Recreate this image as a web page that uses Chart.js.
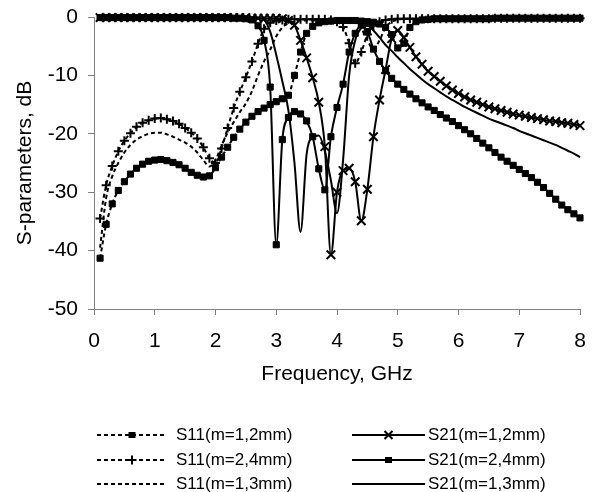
<!DOCTYPE html>
<html>
<head>
<meta charset="utf-8">
<title>S-parameters</title>
<style>
  html, body { margin: 0; padding: 0; background: #fff; }
  canvas { display: block; }
</style>
</head>
<body>
<canvas id="sparamChart" width="592" height="492"></canvas>
<script src="https://cdn.jsdelivr.net/npm/chart.js@4.4.1/dist/chart.umd.min.js"></script>
<script>
// Frequency points, GHz
const freq = [
  0.1, 0.2, 0.3, 0.4, 0.5, 0.6, 0.7, 0.8, 0.9, 1.0,
  1.1, 1.2, 1.3, 1.4, 1.5, 1.6, 1.7, 1.8, 1.9, 2.0,
  2.1, 2.2, 2.3, 2.4, 2.5, 2.6, 2.7, 2.8, 2.9, 3.0,
  3.1, 3.2, 3.3, 3.4, 3.5, 3.6, 3.7, 3.8, 3.9, 4.0,
  4.1, 4.2, 4.3, 4.4, 4.5, 4.6, 4.7, 4.8, 4.9, 5.0,
  5.1, 5.2, 5.3, 5.4, 5.5, 5.6, 5.7, 5.8, 5.9, 6.0,
  6.1, 6.2, 6.3, 6.4, 6.5, 6.6, 6.7, 6.8, 6.9, 7.0,
  7.1, 7.2, 7.3, 7.4, 7.5, 7.6, 7.7, 7.8, 7.9, 8.0
];

// S11, dB
const s11_m12 = [
  -41.3, -35.5, -32.0, -29.7, -28.2, -26.9, -25.9, -25.2, -24.7, -24.5,
  -24.4, -24.6, -24.9, -25.3, -25.9, -26.6, -27.1, -27.4, -27.2, -25.8,
  -24.0, -22.3, -20.6, -19.2, -18.0, -17.0, -16.2, -15.6, -15.0, -14.5,
  -14.0, -13.4, -10.0, -6.0, -2.8, -1.6, -1.0, -0.8, -0.7, -0.6,
  -0.6, -0.6, -0.6, -0.7, -0.8, -0.9, -1.2, -1.8, -3.0, -5.3,
  -4.5, -1.8, -0.8, -0.5, -0.4, -0.3, -0.3, -0.3, -0.3, -0.3,
  -0.3, -0.3, -0.3, -0.3, -0.3, -0.2, -0.2, -0.2, -0.2, -0.2,
  -0.2, -0.2, -0.2, -0.2, -0.2, -0.2, -0.2, -0.2, -0.2, -0.2
];
const s11_m24 = [
  -34.5, -28.8, -25.5, -23.0, -21.2, -19.9, -18.8, -18.1, -17.7, -17.4,
  -17.3, -17.5, -17.8, -18.3, -19.0, -19.8, -20.8, -22.3, -24.2, -25.0,
  -22.5, -19.0, -15.6, -12.8, -10.3, -7.6, -4.6, -2.0, -1.0, -0.6,
  -0.5, -0.4, -0.4, -0.4, -0.4, -0.4, -0.4, -0.4, -0.5, -0.8,
  -1.7, -4.5, -7.9, -6.0, -3.0, -1.5, -0.8, -0.5, -0.4, -0.3,
  -0.3, -0.3, -0.3, -0.3, -0.3, -0.3, -0.3, -0.3, -0.3, -0.3,
  -0.3, -0.3, -0.3, -0.3, -0.3, -0.2, -0.2, -0.2, -0.2, -0.2,
  -0.2, -0.2, -0.2, -0.2, -0.2, -0.2, -0.2, -0.2, -0.2, -0.2
];
const s11_m13 = [
  -39.5, -31.0, -27.3, -25.0, -23.2, -21.9, -21.0, -20.4, -20.0, -19.8,
  -19.8, -20.1, -20.5, -21.0, -21.5, -22.2, -23.2, -24.5, -25.6, -24.5,
  -22.0, -19.8, -18.0, -16.3, -14.8, -12.7, -10.0, -7.6, -5.6, -3.3,
  -1.8, -1.1, -0.8, -0.6, -0.6, -0.6, -0.6, -0.6, -0.6, -0.6,
  -0.6, -0.6, -1.0, -2.0, -4.0, -5.5, -4.0, -1.8, -0.8, -0.5,
  -0.3, -0.3, -0.3, -0.3, -0.3, -0.3, -0.3, -0.3, -0.3, -0.3,
  -0.3, -0.3, -0.3, -0.3, -0.3, -0.2, -0.2, -0.2, -0.2, -0.2,
  -0.2, -0.2, -0.2, -0.2, -0.2, -0.2, -0.2, -0.2, -0.2, -0.2
];

// S21, dB
const s21_m12 = [
  -0.1, -0.1, -0.1, -0.1, -0.1, -0.1, -0.1, -0.1, -0.1, -0.1,
  -0.1, -0.1, -0.1, -0.1, -0.1, -0.1, -0.1, -0.1, -0.1, -0.1,
  -0.1, -0.1, -0.1, -0.1, -0.1, -0.2, -0.2, -0.2, -0.2, -0.2,
  -0.3, -0.6, -1.4, -4.0, -7.0, -10.4, -14.6, -22.2, -40.7, -30.0,
  -26.3, -25.9, -28.2, -34.9, -29.5, -20.5, -14.2, -9.0, -3.7, -2.3,
  -3.5, -5.2, -6.8, -8.1, -9.3, -10.2, -11.0, -11.8, -12.5, -13.1,
  -13.7, -14.2, -14.6, -15.0, -15.4, -15.7, -16.0, -16.3, -16.6, -16.8,
  -17.0, -17.2, -17.4, -17.6, -17.8, -17.9, -18.1, -18.2, -18.4, -18.6
];
const s21_m24 = [
  -0.1, -0.1, -0.1, -0.1, -0.1, -0.1, -0.1, -0.1, -0.1, -0.1,
  -0.1, -0.1, -0.1, -0.1, -0.1, -0.1, -0.1, -0.1, -0.1, -0.1,
  -0.1, -0.1, -0.2, -0.2, -0.3, -0.5, -1.5, -4.0, -12.0, -39.0,
  -21.0, -17.2, -16.2, -16.6, -17.8, -20.5, -26.0, -29.6, -20.5, -15.5,
  -11.5, -6.0, -2.8, -1.4, -2.5, -5.5, -7.6, -9.2, -10.5, -11.5,
  -12.4, -13.2, -14.0, -14.7, -15.4, -16.0, -16.7, -17.3, -17.9, -18.6,
  -19.3, -20.0, -20.8, -21.6, -22.4, -23.2, -24.0, -24.7, -25.4, -26.1,
  -26.8, -27.5, -28.3, -29.2, -30.2, -31.2, -32.2, -33.0, -33.7, -34.4
];
const s21_m13 = [
  -0.1, -0.1, -0.1, -0.1, -0.1, -0.1, -0.1, -0.1, -0.1, -0.1,
  -0.1, -0.1, -0.1, -0.1, -0.1, -0.1, -0.1, -0.1, -0.1, -0.1,
  -0.1, -0.1, -0.1, -0.1, -0.1, -0.1, -0.2, -0.5, -2.5, -6.5,
  -11.0, -16.0, -25.0, -36.8, -23.5, -20.6, -20.3, -23.0, -28.0, -33.6,
  -24.5, -10.0, -4.0, -1.9, -1.5, -2.3, -3.5, -4.8, -5.8, -6.9,
  -7.9, -8.9, -9.8, -10.7, -11.5, -12.2, -12.9, -13.6, -14.2, -14.8,
  -15.4, -15.9, -16.4, -16.9, -17.4, -17.8, -18.2, -18.6, -19.0, -19.5,
  -19.9, -20.3, -20.7, -21.1, -21.5, -21.9, -22.4, -22.9, -23.4, -24.0
];

const seriesLabels = [
  'S11(m=1,2mm)', 'S21(m=1,2mm)',
  'S11(m=2,4mm)', 'S21(m=2,4mm)',
  'S11(m=1,3mm)', 'S21(m=1,3mm)'
];

const FONT = '"Liberation Sans", Arial, sans-serif';
const DASH = [4, 3];

const toPoints = (values) => freq.map((f, i) => ({ x: f, y: values[i] }));

function makeSet(label, values, dashed, marker) {
  let radius = 0;
  if (marker === 'crossRot') radius = 6;
  else if (marker === 'cross') radius = 4.5;
  else if (marker === 'rect') radius = 4.3;
  return {
    label: label,
    data: toPoints(values),
    borderColor: '#000',
    backgroundColor: '#000',
    borderWidth: 2,
    borderDash: dashed ? DASH : [],
    cubicInterpolationMode: 'monotone',
    pointStyle: marker || 'circle',
    pointRadius: radius,
    pointBorderWidth: marker === 'rect' ? 1 : 2,
    pointBackgroundColor: '#000',
    pointBorderColor: '#000',
    clip: false,
    marker: marker || null,
    dashed: dashed
  };
}

// Legend drawn by hand: line sample with the marker in its middle, two columns
function drawMarker(ctx, style, x, y) {
  ctx.save();
  ctx.setLineDash([]);
  ctx.fillStyle = '#000';
  ctx.strokeStyle = '#000';
  ctx.lineWidth = 2;
  if (style === 'rect') {
    ctx.fillRect(x - 3.5, y - 3, 7, 6);
  } else if (style === 'cross') {
    ctx.beginPath();
    ctx.moveTo(x - 4.5, y); ctx.lineTo(x + 4.5, y);
    ctx.moveTo(x, y - 4.5); ctx.lineTo(x, y + 4.5);
    ctx.stroke();
  } else if (style === 'crossRot') {
    ctx.beginPath();
    ctx.moveTo(x - 4, y - 4); ctx.lineTo(x + 4, y + 4);
    ctx.moveTo(x - 4, y + 4); ctx.lineTo(x + 4, y - 4);
    ctx.stroke();
  }
  ctx.restore();
}

const bottomLegend = {
  id: 'bottomLegend',
  afterDraw(chart) {
    const ctx = chart.ctx;
    const rowY = [435, 460, 484];
    const cols = [
      { x0: 97, x1: 167, tx: 176 },
      { x0: 352, x1: 425, tx: 428 }
    ];
    ctx.save();
    chart.data.datasets.forEach((ds, i) => {
      const col = cols[i % 2];
      const y = rowY[Math.floor(i / 2)];
      ctx.strokeStyle = '#000';
      ctx.lineWidth = 2;
      ctx.setLineDash(ds.dashed ? DASH : []);
      ctx.beginPath();
      ctx.moveTo(col.x0, y);
      ctx.lineTo(col.x1, y);
      ctx.stroke();
      if (ds.marker) drawMarker(ctx, ds.marker, (col.x0 + col.x1) / 2, y);
      ctx.setLineDash([]);
      ctx.fillStyle = '#000';
      ctx.font = '17px ' + FONT;
      ctx.textBaseline = 'middle';
      ctx.textAlign = 'left';
      ctx.fillText(ds.label, col.tx, y);
    });
    ctx.restore();
  }
};

Chart.defaults.font.family = FONT;
Chart.defaults.color = '#000';

// fixed plot box: left 94, right 580, top 17, bottom 309
const fitX = (scale) => {
  scale.height = 78;
  scale.paddingLeft = 0;
  scale.paddingRight = 0;
};
const fitY = (scale) => {
  scale.width = 94;
  scale.paddingTop = 0;
  scale.paddingBottom = 0;
};

new Chart(document.getElementById('sparamChart'), {
  type: 'line',
  data: {
    datasets: [
      makeSet(seriesLabels[0], s11_m12, true, 'rect'),
      makeSet(seriesLabels[1], s21_m12, false, 'crossRot'),
      makeSet(seriesLabels[2], s11_m24, true, 'cross'),
      makeSet(seriesLabels[3], s21_m24, false, 'rect'),
      makeSet(seriesLabels[4], s11_m13, true, null),
      makeSet(seriesLabels[5], s21_m13, false, null)
    ]
  },
  options: {
    responsive: false,
    animation: false,
    layout: { autoPadding: false, padding: { left: 0, top: 17, right: 12, bottom: 105 } },
    plugins: {
      legend: { display: false },
      tooltip: { enabled: false }
    },
    scales: {
      x: {
        type: 'linear',
        min: 0,
        max: 8,
        afterFit: fitX,
        ticks: { stepSize: 1, padding: 14, font: { size: 21 } },
        grid: { display: true, drawOnChartArea: false, drawTicks: true, tickLength: 6, color: '#808080' },
        border: { display: true, color: '#808080', width: 1 },
        title: { display: true, text: 'Frequency, GHz', font: { size: 21 }, padding: { top: 0, bottom: 0 } }
      },
      y: {
        type: 'linear',
        min: -50,
        max: 0,
        afterFit: fitY,
        ticks: { stepSize: 10, padding: 10, font: { size: 21 } },
        grid: { display: true, drawOnChartArea: false, drawTicks: true, tickLength: 6, color: '#808080' },
        border: { display: true, color: '#808080', width: 1 },
        title: { display: true, text: 'S-parameters, dB', font: { size: 21 }, padding: { top: 13, bottom: 0 } }
      }
    }
  },
  plugins: [bottomLegend]
});
</script>
</body>
</html>
